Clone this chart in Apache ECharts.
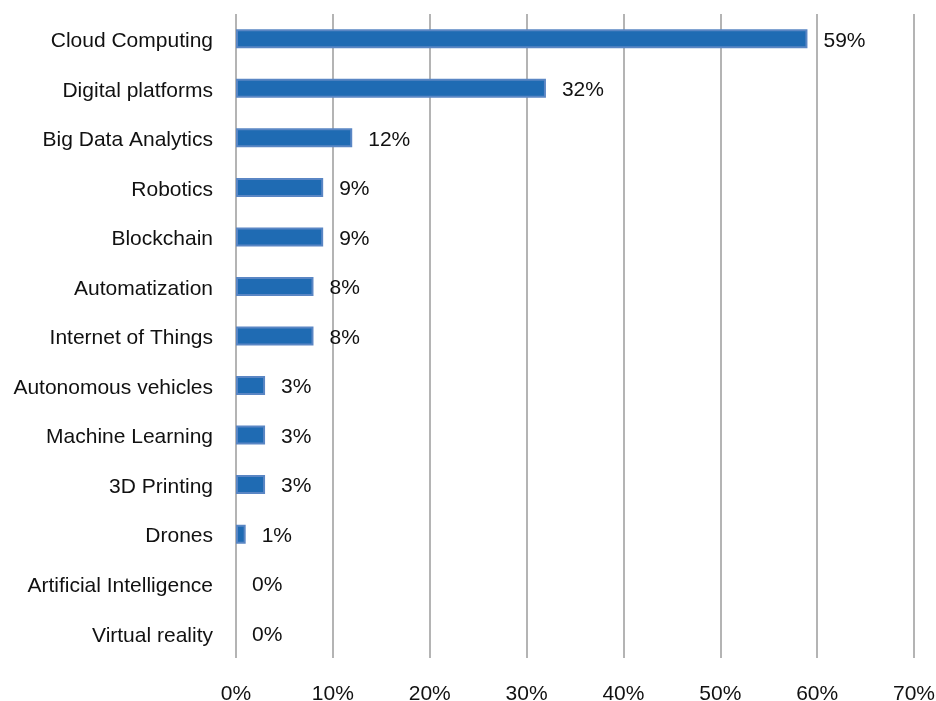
<!DOCTYPE html>
<html>
<head>
<meta charset="utf-8">
<script src="https://cdn.jsdelivr.net/npm/echarts@6/dist/echarts.min.js"></script>
<style>html,body{margin:0;padding:0;background:#fff}#c{width:936px;height:701px}</style>
</head>
<body>
<div id="c"></div>
<script>
const categories = ["Cloud Computing","Digital platforms","Big Data Analytics","Robotics","Blockchain","Automatization","Internet of Things","Autonomous vehicles","Machine Learning","3D Printing","Drones","Artificial Intelligence","Virtual reality"];
const values = [59,32,12,9,9,8,8,3,3,3,1,0,0];
const xTicks = [0,10,20,30,40,50,60,70];

const chart = echarts.init(document.getElementById('c'), null, {renderer:'canvas'});
const font = '"Liberation Sans", Arial, sans-serif';
const data = values.map(v => v === 0 ? {value:v, itemStyle:{borderWidth:0, opacity:0}} : {value:v});
chart.setOption({
  animation:false,
  grid:{left:236, right:22, top:14, bottom:43, containLabel:false, outerBoundsMode:'none'},
  xAxis:{
    type:'value', min:xTicks[0], max:xTicks[xTicks.length-1], interval:10,
    axisLine:{show:false}, axisTick:{show:false},
    splitLine:{show:true, lineStyle:{color:'#b4b4b4', width:2}},
    axisLabel:{formatter:v=>v+'%', color:'#111', fontSize:21, fontFamily:font, margin:26}
  },
  yAxis:{
    type:'category', data:categories, inverse:true,
    axisLine:{show:false}, axisTick:{show:false},
    axisLabel:{color:'#111', fontSize:21, fontFamily:font, margin:23,
      formatter:v=>'{a|'+v+'}',
      rich:{a:{color:'#111', fontSize:21, fontFamily:font, padding:[5,0,0,0]}}}
  },
  series:[{
    type:'bar', data:data, barWidth:19,
    itemStyle:{color:'#1f6bb3', borderColor:'#5a86c4', borderWidth:2},
    label:{show:true, position:'right', distance:16, offset:[0,2], formatter:p=>p.value+'%', color:'#111', fontSize:21, fontFamily:font, opacity:1}
  }]
});
</script>
</body>
</html>
